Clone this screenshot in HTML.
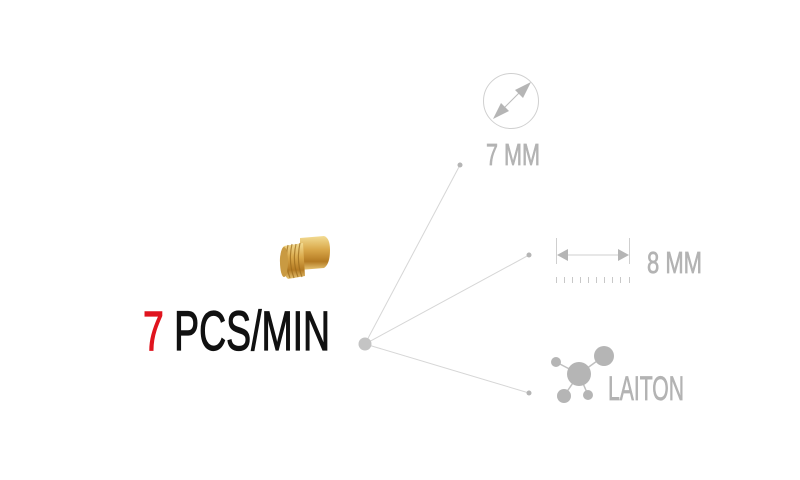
<!DOCTYPE html>
<html><head><meta charset="utf-8"><style>
html,body{margin:0;padding:0;background:#fff;width:800px;height:480px;overflow:hidden}
</style></head><body>
<svg width="800" height="480" viewBox="0 0 800 480" xmlns="http://www.w3.org/2000/svg">
<defs>
<linearGradient id="br" x1="0" y1="0" x2="0" y2="1">
<stop offset="0" stop-color="#f3dc93"/><stop offset="0.4" stop-color="#d9a84a"/><stop offset="0.75" stop-color="#b47a22"/><stop offset="1" stop-color="#e8c676"/>
</linearGradient>
</defs>
<g stroke="#d6d6d6" stroke-width="1">
<line x1="365" y1="344" x2="460" y2="165"/>
<line x1="365" y1="344" x2="529" y2="255"/>
<line x1="365" y1="344" x2="529" y2="393"/>
</g>
<circle cx="365" cy="344" r="6.5" fill="#c4c4c4"/>
<circle cx="460" cy="165" r="2.5" fill="#b5b5b5"/>
<circle cx="529" cy="255" r="2.5" fill="#b5b5b5"/>
<circle cx="529" cy="393" r="2.5" fill="#b5b5b5"/>
<circle cx="511" cy="101" r="27.5" fill="none" stroke="#d0d0d0" stroke-width="1"/>
<line x1="498" y1="114" x2="525" y2="87" stroke="#bdbdbd" stroke-width="1"/>
<polygon points="531,82 523,98 515,90" fill="#b5b5b5"/>
<polygon points="493,119 501,103 509,111" fill="#b5b5b5"/>
<g stroke="#cfcfcf" stroke-width="1">
<line x1="556.5" y1="238" x2="556.5" y2="264"/>
<line x1="629.5" y1="238" x2="629.5" y2="264"/>
<line x1="565" y1="255" x2="620" y2="255"/>
</g>
<polygon points="557,255 568,249 568,261" fill="#b5b5b5"/>
<polygon points="629,255 618,249 618,261" fill="#b5b5b5"/>
<g stroke="#c8c8c8" stroke-width="1">
<line x1="556.5" y1="277" x2="556.5" y2="283"/><line x1="564.5" y1="277" x2="564.5" y2="283"/>
<line x1="572.5" y1="277" x2="572.5" y2="283"/><line x1="580.5" y1="277" x2="580.5" y2="283"/>
<line x1="588.5" y1="277" x2="588.5" y2="283"/><line x1="596.5" y1="277" x2="596.5" y2="283"/>
<line x1="604.5" y1="277" x2="604.5" y2="283"/><line x1="612.5" y1="277" x2="612.5" y2="283"/>
<line x1="620.5" y1="277" x2="620.5" y2="283"/><line x1="629.5" y1="277" x2="629.5" y2="283"/>
</g>
<g stroke="#c0c0c0" stroke-width="1.5">
<line x1="579" y1="374" x2="556" y2="362"/><line x1="579" y1="374" x2="604" y2="356"/>
<line x1="579" y1="374" x2="564" y2="396"/><line x1="579" y1="374" x2="588" y2="395"/>
</g>
<g fill="#b5b5b5">
<circle cx="579" cy="374" r="12"/><circle cx="556" cy="362" r="5"/>
<circle cx="604" cy="356" r="10"/><circle cx="564" cy="396" r="7"/><circle cx="588" cy="395" r="5"/>
</g>
<g font-family="Liberation Sans, sans-serif" fill="#b3b3b3" stroke="#b3b3b3" stroke-width="0.7">
<text x="486" y="165" font-size="31" textLength="54" lengthAdjust="spacingAndGlyphs">7 MM</text>
<text x="647" y="273" font-size="31" textLength="55" lengthAdjust="spacingAndGlyphs">8 MM</text>
<text x="608" y="400" font-size="34" textLength="76" lengthAdjust="spacingAndGlyphs">LAITON</text>
</g>
<text x="143" y="350" font-family="Liberation Sans, sans-serif" font-size="56" stroke-width="1.2" textLength="187" lengthAdjust="spacingAndGlyphs"><tspan fill="#e0141e" stroke="#e0141e">7</tspan><tspan fill="#111" stroke="#111"> PCS/MIN</tspan></text>
<g>
<path d="M300,238 L324,236 Q330,238 330,250 Q330,264 324,268 L300,270 Z" fill="url(#br)"/>
<path d="M284,246 L303,243 L305,276 L288,279 Q279,270 280,258 Q281,249 284,246 Z" fill="url(#br)"/>
<g stroke="#9a6a1c" stroke-width="1.2" fill="none" opacity="0.7">
<path d="M288,245 Q284,262 290,278"/><path d="M292,244 Q288,262 294,278"/>
<path d="M296,244 Q292,262 298,277"/><path d="M300,243 Q296,262 302,277"/>
</g>
<ellipse cx="284" cy="262" rx="4" ry="15" fill="#c99a42"/>
</g>
</svg>
</body></html>
